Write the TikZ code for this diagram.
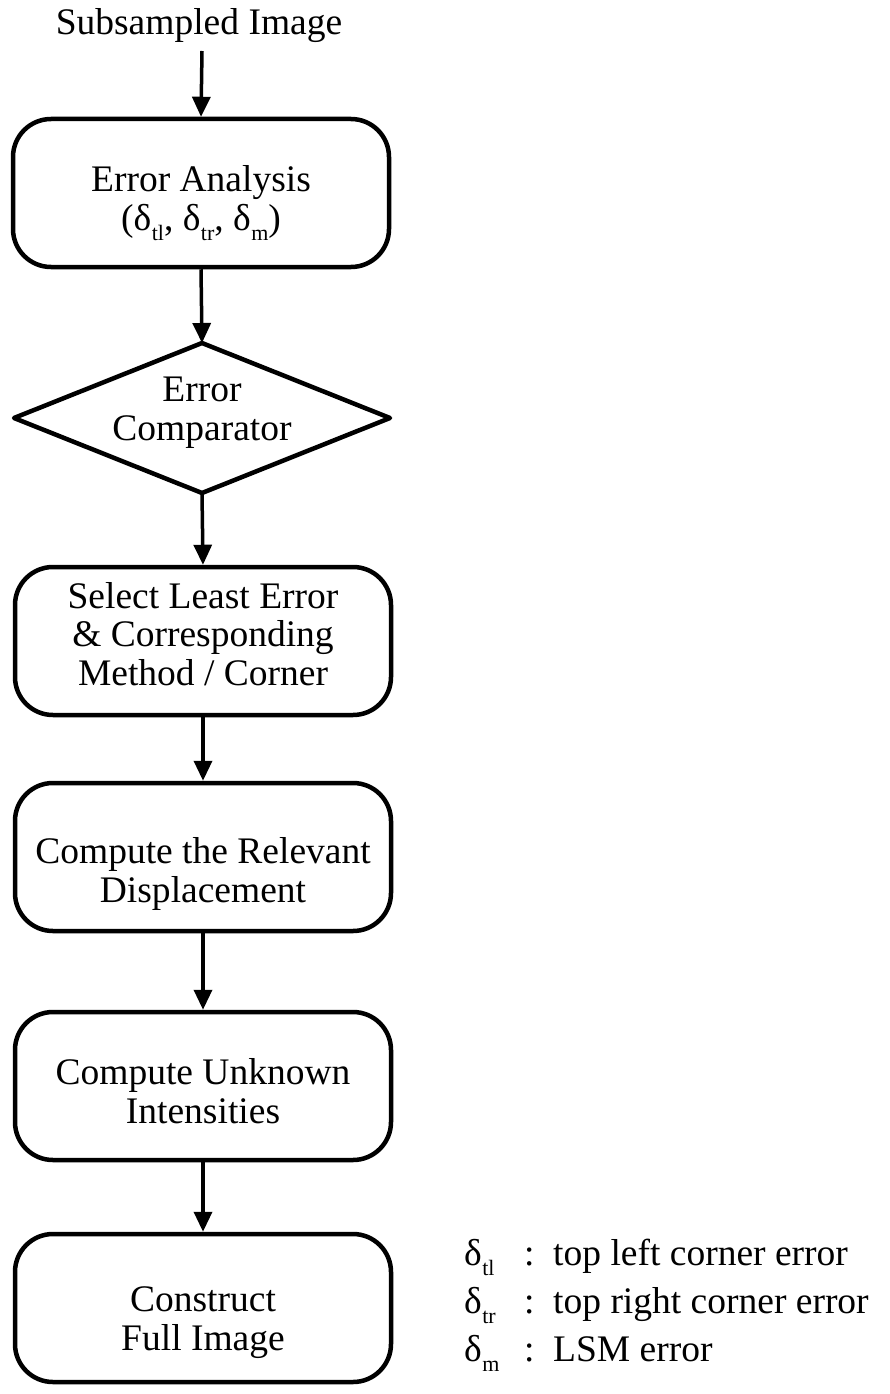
\documentclass[tikz,border=0pt]{standalone}
\usepackage{fontspec}
\setmainfont{Liberation Serif}
\usetikzlibrary{arrows.meta}
\newcommand{\dl}[1]{δ\kern0.5pt\raisebox{-0.28em}{\fontsize{22}{22}\selectfont #1}}
\tikzset{
  every node/.style={font=\fontsize{37.5}{38.5}\selectfont},
  procbox/.style={draw, line width=4.5pt, rounded corners=38pt, minimum width=376pt, minimum height=148pt, inner sep=0pt},
  txt/.style={align=center, inner sep=0pt, anchor=base},
  flow/.style={line width=3.5pt, -{Triangle[length=20pt,width=18pt]}},
  legend/.style={anchor=base west, inner sep=0pt}
}
\begin{document}
\begin{tikzpicture}[x=1pt,y=-1pt]
\useasboundingbox (0,0) rectangle (890,1394);
\node[txt] (start) at (199,35) {Subsampled Image};
\coordinate (s0) at (202,51);
\node[procbox] (b1) at (201,193) {};
\node[txt] (t1) at (201,230) {Error Analysis\\(\dl{tl}, \dl{tr}, \dl{m})};
\coordinate (dN) at (202,343);
\coordinate (dS) at (202,493);
\coordinate (dW) at (14,418);
\coordinate (dE) at (390,418);
\draw[line width=4.5pt, line join=round] (dN) -- (dE) -- (dS) -- (dW) -- cycle;
\node[txt] (t2) at (202,440) {Error\\Comparator};
\node[procbox] (b3) at (203,641) {};
\node[txt] (t3) at (203,685) {Select Least Error\\\& Corresponding\\Method / Corner};
\node[procbox] (b4) at (203,857) {};
\node[txt] (t4) at (203,902) {Compute the Relevant\\Displacement};
\node[procbox] (b5) at (203,1086) {};
\node[txt] (t5) at (203,1123) {Compute Unknown\\Intensities};
\node[procbox] (b6) at (203,1308) {};
\node[txt] (t6) at (203,1350) {Construct\\Full Image};
\draw[flow] (s0) -- (b1.north);
\draw[flow] (b1.south) -- (dN);
\draw[flow] (dS) -- (b3.north);
\draw[flow] (b3.south) -- (b4.north);
\draw[flow] (b4.south) -- (b5.north);
\draw[flow] (b5.south) -- (b6.north);
\node[legend] (l1a) at (464,1265) {\dl{tl}};
\node[legend] (l1b) at (524,1265) {:};
\node[legend] (l1c) at (553,1265) {top left corner error};
\node[legend] (l2a) at (464,1313) {\dl{tr}};
\node[legend] (l2b) at (524,1313) {:};
\node[legend] (l2c) at (553,1313) {top right corner error};
\node[legend] (l3a) at (464,1361) {\dl{m}};
\node[legend] (l3b) at (524,1361) {:};
\node[legend] (l3c) at (553,1361) {LSM error};
\end{tikzpicture}
\end{document}
